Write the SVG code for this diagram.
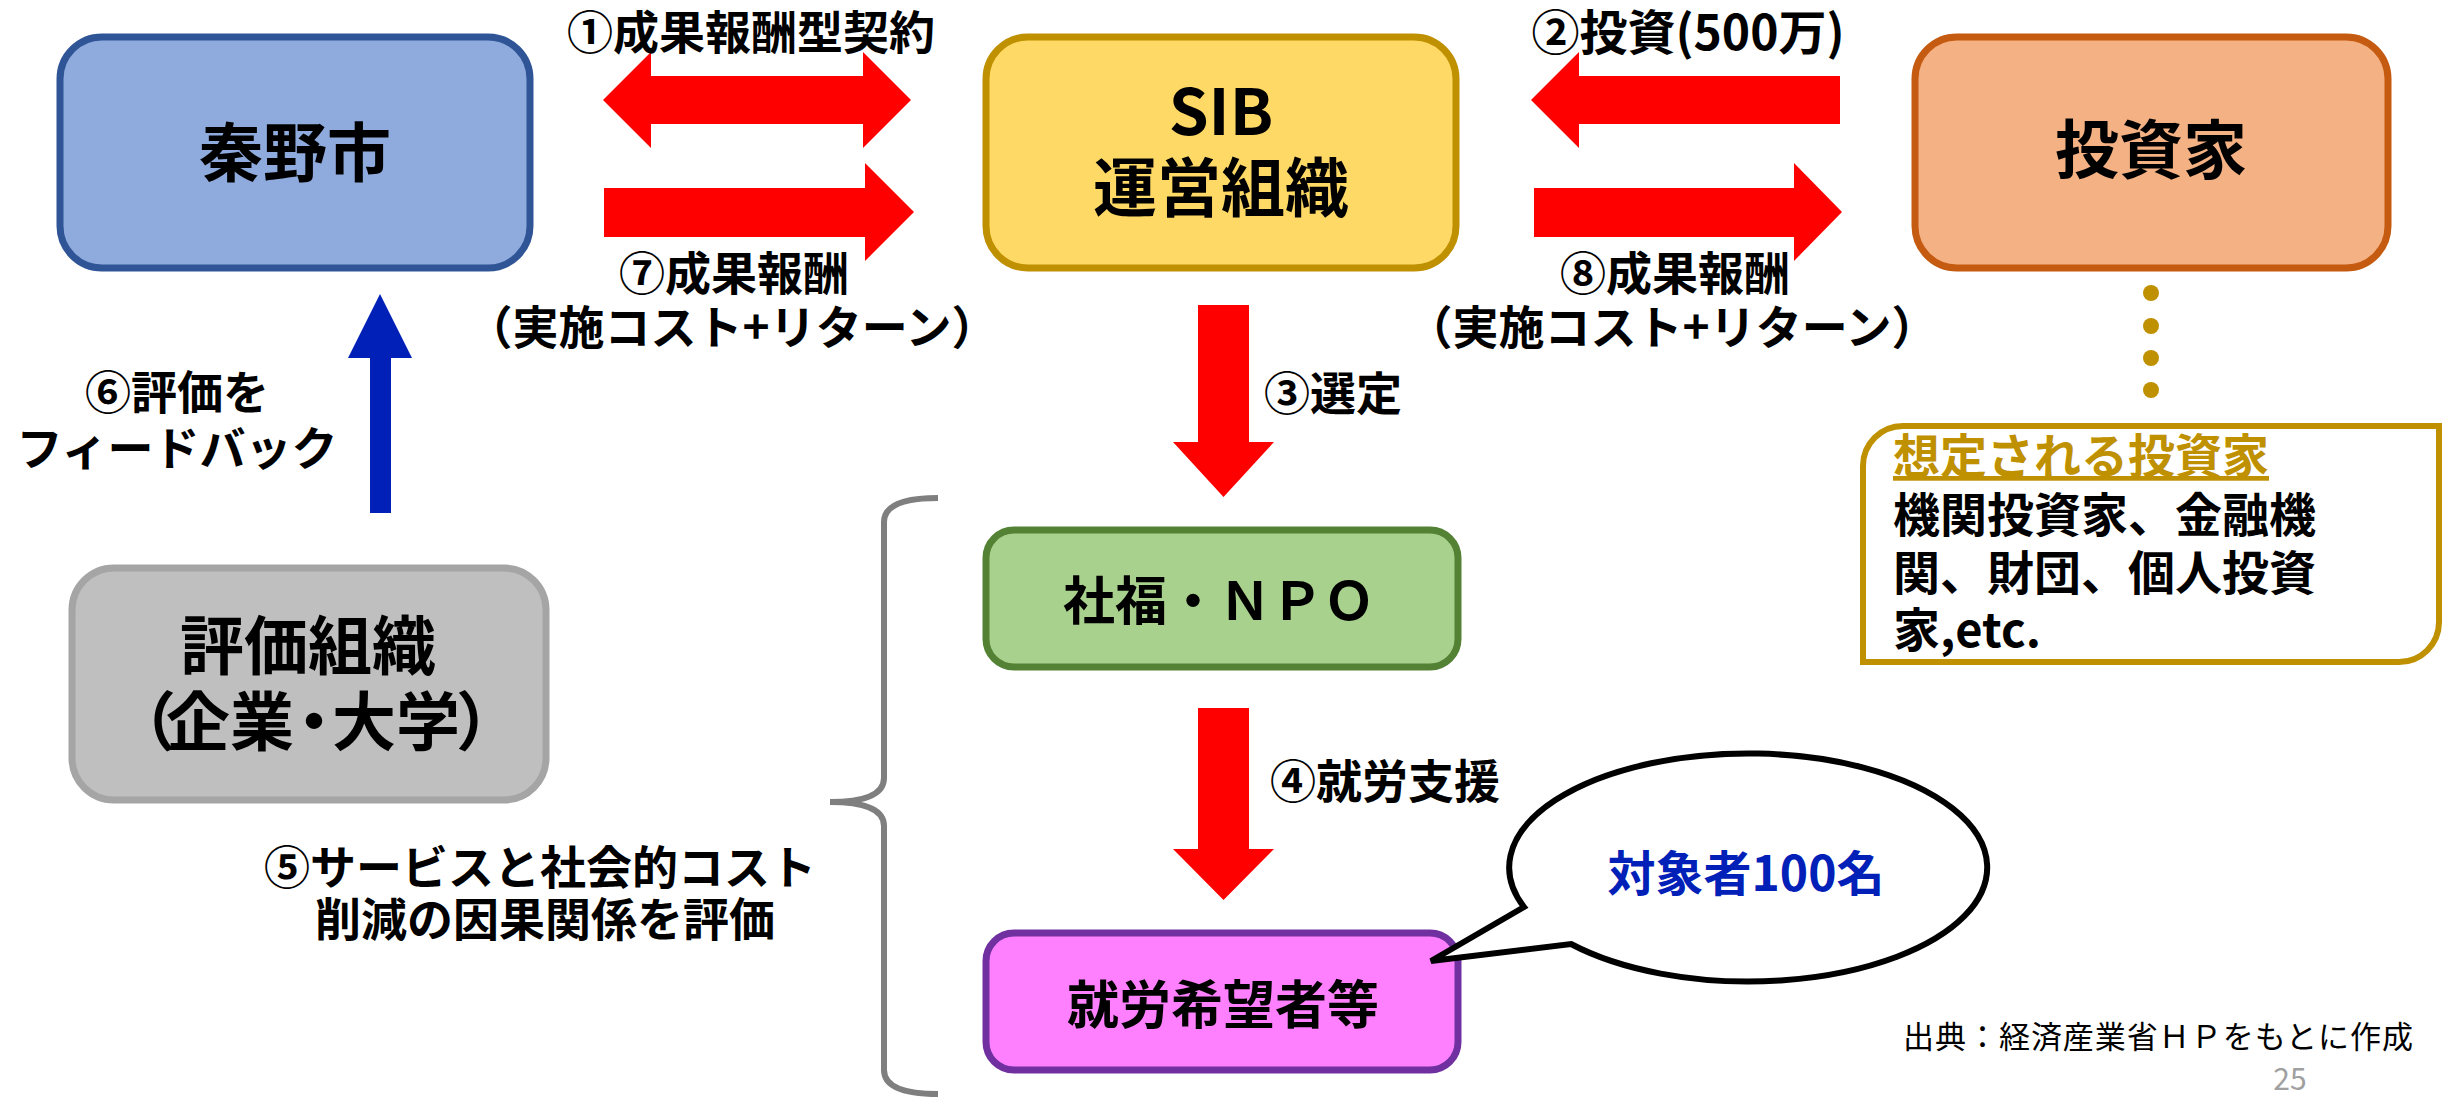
<svg xmlns="http://www.w3.org/2000/svg" width="2450" height="1102" viewBox="0 0 2450 1102">
<style>
text{font-family:"Noto Sans CJK JP","Noto Sans CJK SC",sans-serif;font-weight:700;fill:#000}
.node{font-size:64px;text-anchor:middle}
.mid{font-size:52px;text-anchor:middle}
.lbl{font-size:46px}
.note{font-size:47px}
.c{text-anchor:middle}
.box{stroke-width:7}
.red{fill:#FF0000}
</style>
<rect width="2450" height="1102" fill="#FFFFFF"/>

<g id="connectors">
  <polygon class="red" points="603,100 651,52 651,76 863,76 863,52 911,100 863,148 863,124 651,124 651,148"/>
  <polygon class="red" points="604,188 865,188 865,163 914,212 865,261 865,237 604,237"/>
  <polygon class="red" points="1531,100 1579,52 1579,76 1840,76 1840,124 1579,124 1579,148"/>
  <polygon class="red" points="1534,188 1794,188 1794,163 1842,212 1794,261 1794,237 1534,237"/>
  <polygon class="red" points="1198,305 1249,305 1249,442 1274,442 1223.5,497 1173,442 1198,442"/>
  <polygon class="red" points="1198,708 1249,708 1249,849 1274,849 1223.5,900 1173,849 1198,849"/>
  <polygon fill="#0020B8" points="380,294 412,358 391,358 391,513 370,513 370,358 348,358"/>
  <path d="M938,498 Q884,498 884,522 L884,778 Q884,802 830,802 Q884,802 884,826 L884,1070 Q884,1094 938,1094" fill="none" stroke="#7F7F7F" stroke-width="6"/>
  <g fill="#BF9000">
    <circle cx="2151" cy="293" r="8"/>
    <circle cx="2151" cy="326" r="8"/>
    <circle cx="2151" cy="358" r="8"/>
    <circle cx="2151" cy="390" r="8"/>
  </g>
</g>

<g id="labels">
  <text class="lbl c" x="751" y="49">①成果報酬型契約</text>
  <text class="lbl c" x="734" y="290">⑦成果報酬</text>
  <text class="lbl c" x="732" y="344">（実施コスト+リターン）</text>
  <text class="lbl c" x="1688" y="50" style="font-size:48px">②投資(500万)</text>
  <text class="lbl c" x="1675" y="290">⑧成果報酬</text>
  <text class="lbl c" x="1672" y="344">（実施コスト+リターン）</text>
  <text class="lbl" x="1264" y="410">③選定</text>
  <text class="lbl" x="1270" y="798">④就労支援</text>
  <text class="lbl c" x="177" y="409">⑥評価を</text>
  <text class="lbl c" x="177" y="465">フィードバック</text>
  <text class="lbl c" x="540" y="884">⑤サービスと社会的コスト</text>
  <text class="lbl c" x="545" y="936">削減の因果関係を評価</text>
</g>

<g id="hadano">
  <rect class="box" x="60" y="37" width="470" height="231" rx="42" fill="#8FAADC" stroke="#2F5597"/>
  <text class="node" x="295" y="176">秦野市</text>
</g>

<g id="sib">
  <rect class="box" x="986" y="37" width="470" height="231" rx="42" fill="#FFD966" stroke="#BF9000"/>
  <text class="node" x="1221" y="135">SIB</text>
  <text class="node" x="1221" y="211">運営組織</text>
</g>

<g id="investor">
  <rect class="box" x="1915" y="37" width="473" height="231" rx="42" fill="#F4B183" stroke="#C55A11"/>
  <text class="node" x="2151" y="173">投資家</text>
</g>

<g id="evaluator">
  <rect class="box" x="72" y="568" width="474" height="232" rx="42" fill="#BFBFBF" stroke="#A5A5A5"/>
  <text class="node" x="308" y="669">評価組織</text>
  <text class="node" x="316" y="745">（<tspan dx="-10">企業</tspan><tspan dx="-12">・</tspan><tspan dx="-14">大学</tspan><tspan dx="-4">）</tspan></text>
</g>

<g id="npo">
  <rect class="box" x="986" y="530" width="472" height="137" rx="28" fill="#A9D18E" stroke="#548235"/>
  <text class="mid" x="1219" y="620">社福・ＮＰＯ</text>
</g>

<g id="jobseeker">
  <rect class="box" x="986" y="933" width="472" height="137" rx="28" fill="#FF80FF" stroke="#7030A0"/>
  <text class="mid" x="1223" y="1024">就労希望者等</text>
</g>

<g id="bubble">
  <path d="M1524,907 A239,114 0 1 1 1571,944 L1431,961 Z" fill="#FFFFFF" stroke="#000000" stroke-width="6" stroke-linejoin="miter"/>
  <text class="lbl c" x="1746" y="891" style="fill:#0020B8;font-size:48px">対象者100名</text>
</g>

<g id="investor-note">
  <path d="M1863,466 A40,40 0 0 1 1903,426 L2439,426 L2439,622 A40,40 0 0 1 2399,662 L1863,662 Z" fill="#FFFFFF" stroke="#BF9000" stroke-width="6"/>
  <text class="note" x="1893" y="473" style="fill:#BF9000" text-decoration="underline">想定される投資家</text>
  <text class="note" x="1893" y="532">機関投資家、金融機</text>
  <text class="note" x="1893" y="590">関、財団、個人投資</text>
  <text class="note" x="1893" y="647">家,etc.</text>
</g>

<g id="footer">
  <text x="1903" y="1048" textLength="510" style="font-size:31px;font-weight:400">出典：経済産業省ＨＰをもとに作成</text>
  <text x="2290" y="1090" text-anchor="middle" style="font-size:30px;font-weight:400;fill:#A0A0A0">25</text>
</g>
</svg>
